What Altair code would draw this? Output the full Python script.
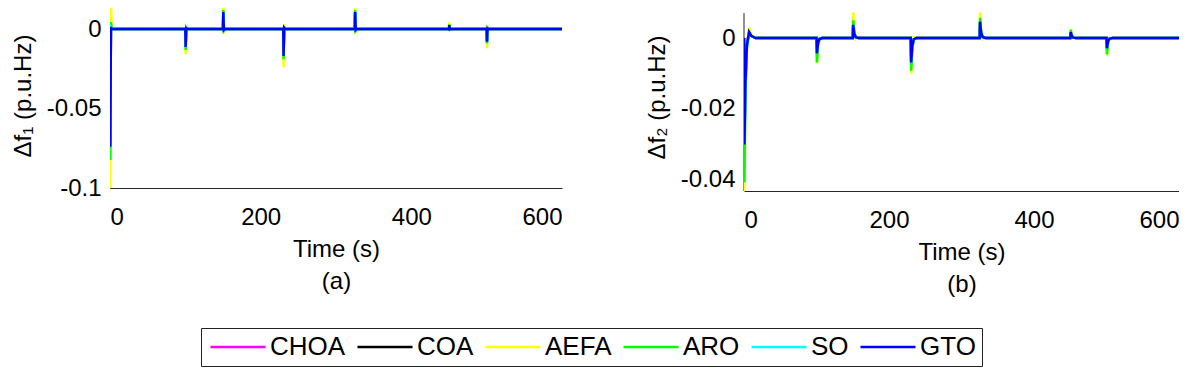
import altair as alt
import pandas as pd

ALGS = ["CHOA", "COA", "AEFA", "ARO", "SO", "GTO"]
COLORS = ["#ff00ff", "#000000", "#ffff00", "#00ff00", "#00ffff", "#0000ff"]

# ---- Panel (a): delta f1 ----
t1 = [0, 0.4, 1.2, 2.2, 4,
      100, 100.4, 101.2, 102.5,
      150, 150.4, 151.2, 152.5,
      230, 230.4, 231.2, 232.5,
      325, 325.4, 326.2, 327.5,
      450, 450.4, 451.2, 452.5,
      500, 500.4, 501.2, 502.5,
      600]
f1_CHOA = [0, -0.072, 0.0011, 0.0003, 0,
           0, -0.0110, 0.0005, 0,
           0, 0.0104, -0.0005, 0,
           0, -0.0166, 0.0008, 0,
           0, 0.0104, -0.0005, 0,
           0, 0.0024, -0.0002, 0,
           0, -0.0078, 0.0004, 0,
           0]
f1_COA = [0, -0.071, 0.0010, 0.0003, 0,
          0, -0.0109, 0.0005, 0,
          0, 0.0103, -0.0005, 0,
          0, -0.0165, 0.0008, 0,
          0, 0.0103, -0.0005, 0,
          0, 0.0024, -0.0002, 0,
          0, -0.0077, 0.0004, 0,
          0]
f1_AEFA = [0, -0.100, 0.0164, 0.0010, 0,
           0, -0.0157, 0.0020, 0,
           0, 0.0151, -0.0025, 0,
           0, -0.0240, 0.0030, 0,
           0, 0.0150, -0.0025, 0,
           0, 0.0044, -0.0005, 0,
           0, -0.0120, 0.0012, 0,
           0]
f1_ARO = [0, -0.0824, 0.0044, 0.0005, 0,
          0, -0.0132, 0.0010, 0,
          0, 0.0120, -0.0010, 0,
          0, -0.0190, 0.0015, 0,
          0, 0.0120, -0.0010, 0,
          0, 0.0030, -0.0003, 0,
          0, -0.0090, 0.0008, 0,
          0]
f1_SO = [0, -0.073, 0.0011, 0.0003, 0,
         0, -0.0111, 0.0005, 0,
         0, 0.0105, -0.0005, 0,
         0, -0.0168, 0.0008, 0,
         0, 0.0105, -0.0005, 0,
         0, 0.0024, -0.0002, 0,
         0, -0.0079, 0.0004, 0,
         0]
f1_GTO = [0, -0.074, 0.0012, 0.0003, 0,
          0, -0.0113, 0.0005, 0,
          0, 0.0107, -0.0005, 0,
          0, -0.0170, 0.0008, 0,
          0, 0.0107, -0.0005, 0,
          0, 0.0025, -0.0002, 0,
          0, -0.0080, 0.0004, 0,
          0]

# ---- Panel (b): delta f2 ----
t2 = [0, 0.6, 2, 4, 7, 10, 16,
      100, 100.6, 102, 104, 108,
      150, 150.6, 152, 154, 158,
      230, 230.6, 232, 234, 238,
      325, 325.6, 327, 329, 333,
      450, 450.6, 452, 454, 458,
      500, 500.6, 502, 504, 508,
      600]
f2_CHOA = [0, -0.029, -0.0115, -0.0019, 0.0016, 0.0006, 0,
           0, -0.0041, -0.0014, -0.0003, 0,
           0, 0.0035, 0.0012, 0.0002, 0,
           0, -0.0066, -0.0023, -0.0004, 0,
           0, 0.0044, 0.0015, 0.0003, 0,
           0, 0.0016, 0.0006, 0.0001, 0,
           0, -0.0028, -0.0010, -0.0002, 0,
           0]
f2_COA = [0, -0.0285, -0.0113, -0.0019, 0.0016, 0.0006, 0,
          0, -0.0040, -0.0014, -0.0003, 0,
          0, 0.0035, 0.0012, 0.0002, 0,
          0, -0.0065, -0.0023, -0.0004, 0,
          0, 0.0043, 0.0015, 0.0003, 0,
          0, 0.0016, 0.0006, 0.0001, 0,
          0, -0.0027, -0.0010, -0.0002, 0,
          0]
f2_AEFA = [0, -0.0431, -0.0160, -0.0030, 0.0030, 0.0010, 0,
           0, -0.0072, -0.0024, -0.0002, 0,
           0, 0.0072, 0.0020, -0.0004, 0,
           0, -0.0100, -0.0032, 0.0003, 0,
           0, 0.0072, 0.0020, -0.0004, 0,
           0, 0.0025, 0.0008, 0.0001, 0,
           0, -0.0050, -0.0016, -0.0002, 0,
           0]
f2_ARO = [0, -0.0406, -0.0150, -0.0030, 0.0015, 0.0007, 0,
          0, -0.0069, -0.0022, -0.0004, 0,
          0, 0.0050, 0.0017, 0.0003, 0,
          0, -0.0092, -0.0030, -0.0005, 0,
          0, 0.0057, 0.0019, 0.0003, 0,
          0, 0.0023, 0.0008, 0.0001, 0,
          0, -0.0046, -0.0015, -0.0003, 0,
          0]
f2_SO = [0, -0.0295, -0.0118, -0.0020, 0.0017, 0.0006, 0,
         0, -0.0042, -0.0015, -0.0003, 0,
         0, 0.0036, 0.0013, 0.0002, 0,
         0, -0.0068, -0.0024, -0.0004, 0,
         0, 0.0045, 0.0016, 0.0003, 0,
         0, 0.0017, 0.0006, 0.0001, 0,
         0, -0.0029, -0.0010, -0.0002, 0,
         0]
f2_GTO = [0, -0.0300, -0.0120, -0.0020, 0.0017, 0.0006, 0,
          0, -0.0043, -0.0015, -0.0003, 0,
          0, 0.0037, 0.0013, 0.0002, 0,
          0, -0.0069, -0.0024, -0.0004, 0,
          0, 0.0046, 0.0016, 0.0003, 0,
          0, 0.0017, 0.0006, 0.0001, 0,
          0, -0.0029, -0.0010, -0.0002, 0,
          0]

X_TICKS = [0, 200, 400, 600]
Y1_TICKS = [-0.1, -0.05, 0]
Y2_TICKS = [-0.04, -0.02, 0]
Y1_DOMAIN = [-0.1, 0.0164]
Y2_DOMAIN = [-0.0431, 0.00986]
Y2_AXIS_LINE = [-0.0431, 0.0070]  # extent of the drawn y-axis line in panel (b)

FONT = "Liberation Sans"

series1 = dict(zip(ALGS, [f1_CHOA, f1_COA, f1_AEFA, f1_ARO, f1_SO, f1_GTO]))
series2 = dict(zip(ALGS, [f2_CHOA, f2_COA, f2_AEFA, f2_ARO, f2_SO, f2_GTO]))

color = alt.Color(
    "alg:N",
    scale=alt.Scale(domain=ALGS, range=COLORS),
    legend=alt.Legend(
        title=None,
        orient="none",
        direction="horizontal",
        legendX=91,
        legendY=325,
        symbolType="M-5.5,0H5.5",
        symbolSize=100,
        symbolOffset=18,
        symbolStrokeWidth=2.5,
        labelFontSize=26,
        labelFont=FONT,
        labelColor="#000000",
        labelOffset=19,
        columnPadding=6,
        padding=6,
        strokeColor="#222222",
        fillColor="#ffffff",
        labelLimit=200,
    ),
)

LABEL_EXPR = "datum.value == 0 ? '0' : '-' + format(abs(datum.value), '~g')"


def panel(t, series, ydom, yticks, ytitle, xtitle, w, h, ytitle_pad, show_domain, axis_line=None):
    layers = []
    if axis_line is not None:
        adf = pd.DataFrame({"t": [0], "y0": [axis_line[0]], "y1": [axis_line[1]]})
        layers.append(
            alt.Chart(adf).mark_rule(color="#262626", strokeWidth=1)
            .encode(x="t:Q", y="y0:Q", y2="y1:Q")
        )
    for alg in ALGS:
        df = pd.DataFrame({"t": t, "v": series[alg], "alg": alg})
        layers.append(
            alt.Chart(df)
            .mark_line(strokeWidth=2.5, clip=True)
            .encode(
                x=alt.X(
                    "t:Q",
                    scale=alt.Scale(domain=[0, 600], nice=False),
                    axis=alt.Axis(
                        values=X_TICKS,
                        title=xtitle,
                        grid=False,
                        ticks=False,
                        labelPadding=17,
                        titlePadding=8,
                        titleLineHeight=32,
                        format="d",
                    ),
                ),
                y=alt.Y(
                    "v:Q",
                    scale=alt.Scale(domain=ydom, nice=False, zero=False),
                    axis=alt.Axis(
                        values=yticks,
                        title=ytitle,
                        grid=False,
                        ticks=False,
                        domain=show_domain,
                        labelPadding=9,
                        titlePadding=ytitle_pad,
                        labelExpr=LABEL_EXPR,
                    ),
                ),
                color=color,
            )
        )
    return alt.layer(*layers).properties(width=w, height=h)


left = panel(t1, series1, Y1_DOMAIN, Y1_TICKS, "Δf₁ (p.u.Hz)",
             ["Time (s)", "(a)"], 452, 185, 11, True)
right = panel(t2, series2, Y2_DOMAIN, Y2_TICKS, "Δf₂ (p.u.Hz)",
              ["Time (s)", "(b)"], 435, 188, 11, False, axis_line=Y2_AXIS_LINE)

chart = (
    alt.hconcat(left, right, spacing=83)
    .resolve_scale(color="shared")
    .properties(padding={"left": 3, "top": -5, "right": 0, "bottom": 0})
    .configure_view(stroke=None)
    .configure_axis(
        labelFont=FONT,
        titleFont=FONT,
        labelFontSize=24,
        titleFontSize=24,
        titleFontWeight="normal",
        labelColor="#000000",
        titleColor="#000000",
        domainColor="#262626",
        domainWidth=1,
    )
)

chart.save("out.html", embed_options={"renderer": "svg", "actions": False})
